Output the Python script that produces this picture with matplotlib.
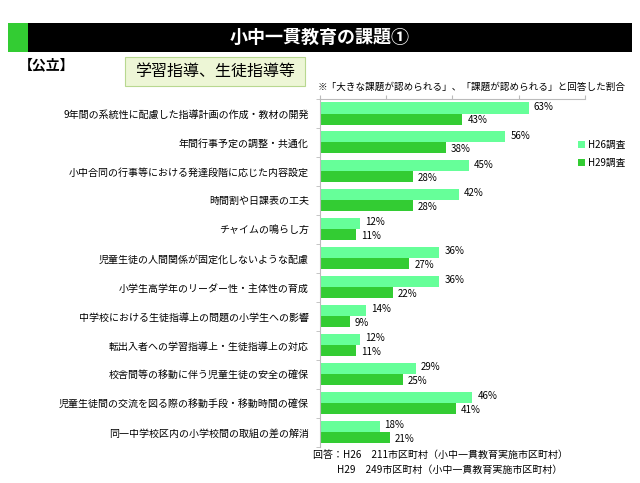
import numpy as np
import matplotlib.pyplot as plt
from matplotlib.patches import Rectangle, FancyBboxPatch

plt.rcParams['font.family'] = ['Noto Sans CJK JP', 'DejaVu Sans']

# data
categories = [
    "9年間の系統性に配慮した指導計画の作成・教材の開発",
    "年間行事予定の調整・共通化",
    "小中合同の行事等における発達段階に応じた内容設定",
    "時間割や日課表の工夫",
    "チャイムの鳴らし方",
    "児童生徒の人間関係が固定化しないような配慮",
    "小学生高学年のリーダー性・主体性の育成",
    "中学校における生徒指導上の問題の小学生への影響",
    "転出入者への学習指導上・生徒指導上の対応",
    "校舎間等の移動に伴う児童生徒の安全の確保",
    "児童生徒間の交流を図る際の移動手段・移動時間の確保",
    "同一中学校区内の小学校間の取組の差の解消",
]
h26 = [63, 56, 45, 42, 12, 36, 36, 14, 12, 29, 46, 18]
h29 = [43, 38, 28, 28, 11, 27, 22, 9, 11, 25, 41, 21]
series_names = ["H26調査", "H29調査"]
colors = ["#66FF99", "#33CC33"]

fig = plt.figure(figsize=(6.4, 4.83), dpi=100)

# title bar
fig.patches.append(Rectangle((0.0125, 0.892), 0.975, 0.060, transform=fig.transFigure,
                             facecolor="black", edgecolor="none"))
fig.patches.append(Rectangle((0.0125, 0.892), 0.031, 0.060, transform=fig.transFigure,
                             facecolor="#33CC33", edgecolor="none"))
fig.text(0.5, 0.922, "小中一貫教育の課題①", color="white", fontsize=13,
         fontweight="bold", ha="center", va="center")

fig.text(0.03, 0.865, "【公立】", fontsize=10, fontweight="bold", ha="left", va="center")
fig.patches.append(FancyBboxPatch((0.196, 0.822), 0.28, 0.06, transform=fig.transFigure,
                                  boxstyle="square,pad=0", facecolor="#EDF6D6",
                                  edgecolor="#B8D890", linewidth=0.8))
fig.text(0.336, 0.852, "学習指導、生徒指導等", fontsize=11.5, ha="center", va="center")
fig.text(0.497, 0.82, "※「大きな課題が認められる」、「課題が認められる」と回答した割合",
         fontsize=6.9, ha="left", va="center")

ax = fig.add_axes([0.5, 0.075, 0.414, 0.72])
y = np.arange(len(categories))
bh = 0.38
ax.barh(y - bh / 2, h26, height=bh, color=colors[0], label=series_names[0])
ax.barh(y + bh / 2, h29, height=bh, color=colors[1], label=series_names[1])

for yi, v in zip(y, h26):
    ax.text(v + 1.5, yi - bh / 2 - 0.05, f"{v}%", fontsize=7, va="center", ha="left")
for yi, v in zip(y, h29):
    ax.text(v + 1.5, yi + bh / 2 + 0.05, f"{v}%", fontsize=7, va="center", ha="left")

ax.set_xlim(0, 80)
ax.set_ylim(len(categories) - 0.5, -0.5)
ax.set_yticks(y)
ax.set_yticklabels(categories, fontsize=7.2)
ax.set_yticks(np.arange(-0.5, len(categories)), minor=True)
ax.tick_params(axis="y", which="major", length=0, pad=8)
ax.tick_params(axis="y", which="minor", length=3, color="#BBBBBB", direction="out")

ax.xaxis.tick_top()
ax.set_xticks([0, 20, 40, 60, 80])
ax.set_xticklabels([])
ax.tick_params(axis="x", length=3, color="#BBBBBB", direction="out")

for s in ["right", "bottom"]:
    ax.spines[s].set_visible(False)
ax.spines["top"].set_color("#BBBBBB")
ax.spines["left"].set_color("#BBBBBB")
ax.spines["top"].set_linewidth(0.8)
ax.spines["left"].set_linewidth(0.8)

fig.legend(loc="upper left", bbox_to_anchor=(0.89, 0.728), frameon=False,
           fontsize=7, handlelength=0.7, handleheight=0.7, handletextpad=0.3,
           labelspacing=0.8)

fig.text(0.489, 0.058, "回答：H26　211市区町村（小中一貫教育実施市区町村）",
         fontsize=7.2, ha="left", va="center")
fig.text(0.527, 0.027, "H29　249市区町村（小中一貫教育実施市区町村）",
         fontsize=7.2, ha="left", va="center")

fig.savefig("out.png", dpi=100)
